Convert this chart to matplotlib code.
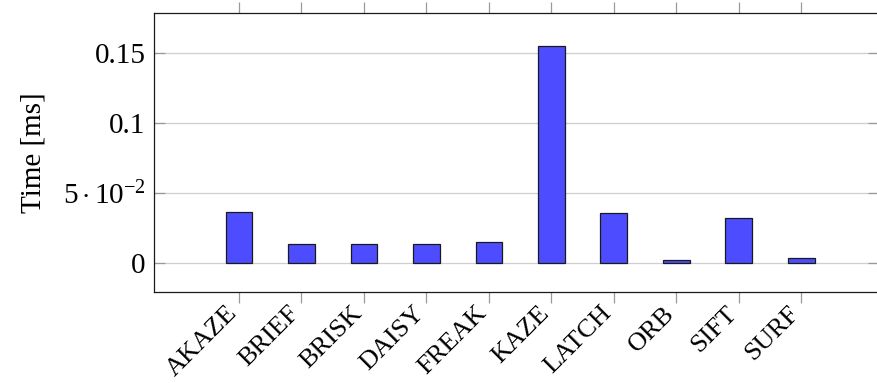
import matplotlib
matplotlib.use('Agg')
import matplotlib.pyplot as plt
import matplotlib.transforms as mtransforms
import numpy as np

# Serif text, including math for the scientific tick label
plt.rcParams['font.family'] = ['Liberation Serif', 'DejaVu Serif']
plt.rcParams['mathtext.fontset'] = 'custom'
plt.rcParams['mathtext.rm'] = 'Liberation Serif'
plt.rcParams['mathtext.it'] = 'Liberation Serif:italic'

# Tiempo medio por descriptor
descriptores = ['AKAZE', 'BRIEF', 'BRISK', 'DAISY', 'FREAK',
                'KAZE', 'LATCH', 'ORB', 'SIFT', 'SURF']
tiempos = [0.0367, 0.0136, 0.0134, 0.0139, 0.0153,
           0.1553, 0.0355, 0.0021, 0.0324, 0.0034]

yticks = [0, 0.05, 0.1, 0.15]
ytick_labels = ['0', r'$5\cdot10^{-2}$', '0.1', '0.15']

fig = plt.figure(figsize=(8.78, 3.83), dpi=100)
ax = fig.add_axes([154 / 878, (383 - 292) / 383, (879.5 - 154) / 878, (292 - 13) / 383])

x = np.arange(len(descriptores))
ax.bar(x, tiempos, width=0.43, color='#4d4dff', edgecolor='#1a1a1a',
       linewidth=0.9, zorder=3)

ax.set_xlim(-1.36, 10.25)
ax.set_ylim(-0.0207, 0.1786)

ax.set_yticks(yticks)
ax.set_yticklabels(ytick_labels, fontsize=21)
ax.set_xticks(x)
ax.set_xticklabels([])

# etiquetas giradas, colgando bajo cada marca del eje x
desplazamiento = mtransforms.ScaledTranslation(-0.055, -0.18, fig.dpi_scale_trans)
trans_etiq = ax.get_xaxis_transform() + desplazamiento
for i, nombre in zip(x, descriptores):
    ax.text(i, 0, nombre, transform=trans_etiq, fontsize=19, rotation=45,
            ha='right', va='center', rotation_mode='anchor', clip_on=False)

ax.grid(axis='y', color='#cfcfcf', linewidth=0.9, zorder=0)
ax.tick_params(axis='y', direction='in', length=8, width=0.9, color='#9a9a9a',
               left=True, right=True, pad=6)
ax.tick_params(axis='x', direction='out', length=8, width=0.9, color='#9a9a9a',
               bottom=True, top=True)

for lado in ['left', 'top', 'bottom', 'right']:
    ax.spines[lado].set_linewidth(0.9)
    ax.spines[lado].set_color('#1a1a1a')

ax.set_ylabel('Time [ms]', fontsize=21, labelpad=12)

plt.savefig('out.png', dpi=100)
plt.close()
